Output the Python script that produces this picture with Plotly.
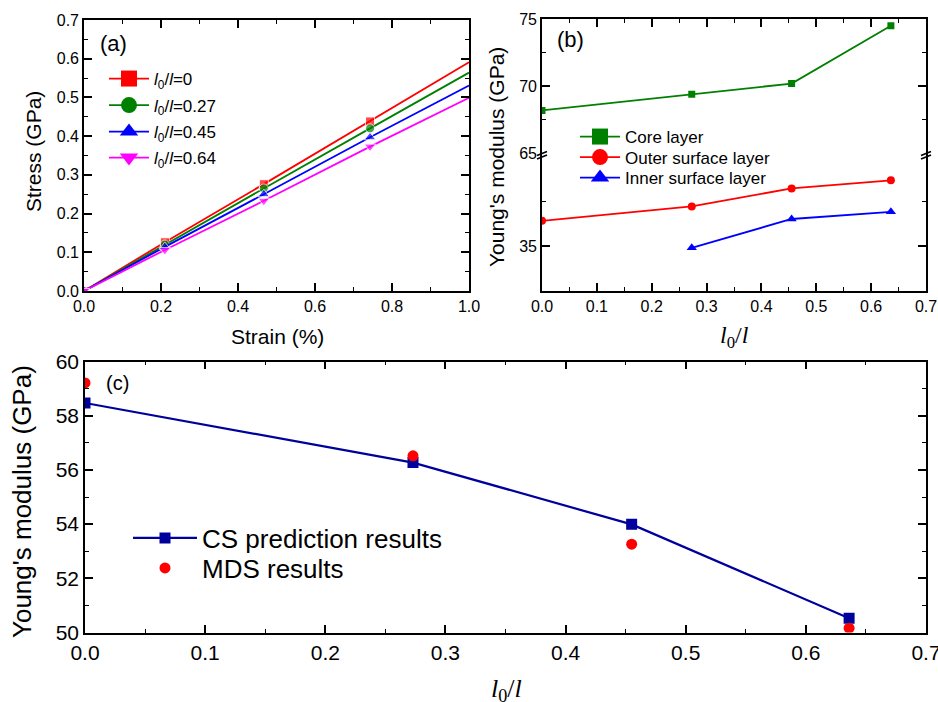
import plotly.graph_objects as go

W, H = 938, 702
SANS = "Arial, 'Liberation Sans', sans-serif"
SERIF = "'Times New Roman', 'Liberation Serif', serif"

# ---- (a) stress-strain curves for four l0/l ratios ----
strain = [0.0, 0.21, 0.467, 0.743, 1.0]
stress_r0 = [0.0, 0.126, 0.276, 0.438, 0.591]
stress_r027 = [0.0, 0.120, 0.265, 0.420, 0.564]
stress_r045 = [0.0, 0.114, 0.250, 0.397, 0.531]
stress_r064 = [0.0, 0.106, 0.233, 0.373, 0.499]
ratio_labels_a = ["0", "0.27", "0.45", "0.64"]

# ---- (b) layer moduli vs l0/l ----
ratio = [0.0, 0.273, 0.455, 0.636]
core_E = [68.2, 69.4, 70.2, 74.5]
outer_E = [36.4, 37.2, 38.2, 38.65]
inner_ratio = [0.273, 0.455, 0.636]
inner_E = [34.9, 36.5, 36.9]

# ---- (c) effective modulus: CS prediction vs MDS ----
cs_E = [58.47, 56.27, 53.99, 50.53]
mds_E = [59.21, 56.52, 53.26, 50.16]


def px(x):
    return x / W


def py(y):
    return 1 - y / H


fig = go.Figure()
legends = {}


def legend_row(key, x, y, size, itemwidth):
    # one legend per row so the row spacing can be set directly
    legends[key] = dict(x=px(x), y=py(y), xanchor="left", yanchor="middle",
                        bgcolor="rgba(0,0,0,0)", borderwidth=0,
                        font=dict(family=SANS, size=size, color="black"),
                        itemwidth=itemwidth, tracegroupgap=0)


# (a) curves; the end point at strain 1.0 carries no marker
colors_a = ["#FF0000", "#008000", "#0000FF", "#FF00FF"]
symbols_a = ["square", "circle", "triangle-up", "triangle-down"]
sizes_a = [9, 9, 10, 10]
rows_a = [79, 105.5, 132, 158]
for i, (ys, c, s, ms, lab) in enumerate(zip([stress_r0, stress_r027, stress_r045, stress_r064],
                                            colors_a, symbols_a, sizes_a, ratio_labels_a)):
    fig.add_trace(go.Scatter(
        x=strain, y=ys, mode="lines+markers", xaxis="x", yaxis="y",
        line=dict(color=c, width=1.8),
        marker=dict(symbol=s, color=c, size=[ms] * (len(strain) - 1) + [0]),
        showlegend=False))
    key = "legend" if i == 0 else f"legend{i + 1}"
    legend_row(key, 104, rows_a[i], 17, 40)
    fig.add_trace(go.Scatter(
        x=[None], y=[None], mode="lines+markers", xaxis="x", yaxis="y",
        line=dict(color=c, width=1.8), marker=dict(symbol=s, color=c, size=16),
        name="<i>l</i><sub>0</sub>/<i>l</i>=" + lab, legend=key))

# (b) core layer on the upper segment, surface layers on the lower one
fig.add_trace(go.Scatter(x=ratio, y=core_E, mode="lines+markers", xaxis="x4", yaxis="y2",
                         line=dict(color="#008000", width=1.8),
                         marker=dict(symbol="square", color="#008000", size=7),
                         showlegend=False))
fig.add_trace(go.Scatter(x=ratio, y=outer_E, mode="lines+markers", xaxis="x2", yaxis="y3",
                         line=dict(color="#FF0000", width=1.8),
                         marker=dict(symbol="circle", color="#FF0000", size=8),
                         showlegend=False))
fig.add_trace(go.Scatter(x=inner_ratio, y=inner_E, mode="lines+markers", xaxis="x2", yaxis="y3",
                         line=dict(color="#0000FF", width=1.8),
                         marker=dict(symbol="triangle-up", color="#0000FF", size=9),
                         showlegend=False))
rows_b = [137, 157.5, 178]
for i, (name, c, s) in enumerate([("Core layer", "#008000", "square"),
                                  ("Outer surface layer", "#FF0000", "circle"),
                                  ("Inner surface layer", "#0000FF", "triangle-up")]):
    key = f"legend{i + 5}"
    legend_row(key, 575, rows_b[i], 17, 40)
    fig.add_trace(go.Scatter(x=[None], y=[None], mode="lines+markers", xaxis="x2", yaxis="y3",
                             line=dict(color=c, width=1.8),
                             marker=dict(symbol=s, color=c, size=16),
                             name=name, legend=key))

# (c)
NAVY = "#00009C"
legend_row("legend8", 128, 538, 26, 64)
legend_row("legend9", 128, 568, 26, 64)
fig.add_trace(go.Scatter(x=ratio, y=cs_E, mode="lines+markers", xaxis="x5", yaxis="y5",
                         line=dict(color=NAVY, width=2.2),
                         marker=dict(symbol="square", color=NAVY, size=11),
                         name="CS prediction results", legend="legend8"))
fig.add_trace(go.Scatter(x=ratio, y=mds_E, mode="markers", xaxis="x5", yaxis="y5",
                         marker=dict(symbol="circle", color="#FF0000", size=11),
                         name="MDS results", legend="legend9"))


def axis(domain, rng, tick_size, dtick=None, minor_dtick=None, fmt=None, mirror="ticks", **kw):
    d = dict(domain=domain, range=rng, showline=True, linecolor="black", linewidth=1.6,
             mirror=mirror, ticks="inside", ticklen=8, tickwidth=1.6, tickcolor="black",
             showgrid=False, zeroline=False, automargin=False, ticklabeloverflow="allow",
             tickfont=dict(family=SANS, size=tick_size, color="black"))
    if dtick is not None:
        d["dtick"] = dtick
        d["tick0"] = rng[0]
    if minor_dtick is not None:
        d["minor"] = dict(ticks="inside", ticklen=4, tickwidth=1.4, tickcolor="black",
                          dtick=minor_dtick, showgrid=False)
    if fmt:
        d["tickformat"] = fmt
    d.update(kw)
    return d


layout = dict(
    width=W, height=H, margin=dict(l=0, r=0, t=0, b=0, autoexpand=False),
    paper_bgcolor="white", plot_bgcolor="white",
    font=dict(family=SANS, color="black"),
    # (a)
    xaxis=axis([px(84), px(469)], [0, 1], 16, 0.2, 0.1, ".1f", anchor="y"),
    yaxis=axis([py(291), py(20)], [0, 0.7], 16, 0.1, 0.05, ".1f", anchor="x"),
    # (b) lower segment
    xaxis2=axis([px(542), px(926)], [0, 0.7], 16, 0.1, 0.05, ".1f", mirror=False,
                anchor="y3"),
    yaxis3=axis([py(291), py(153.5)], [32.5, 40.14], 16, mirror="ticks", anchor="x2",
                tickmode="array", tickvals=[35],
                minor=dict(ticks="inside", ticklen=4, tickwidth=1.4, tickcolor="black",
                           tickmode="array", tickvals=[32.5, 37.5])),
    # (b) upper segment
    xaxis4=axis([px(542), px(926)], [0, 0.7], 16, 0.1, 0.05, mirror=False,
                anchor="y2", side="top", showticklabels=False),
    yaxis2=axis([py(153.5), py(19)], [65, 75], 16, 5, 2.5, mirror="ticks", anchor="x4"),
    # (c)
    xaxis5=axis([px(85), px(926)], [0, 0.7], 21, 0.1, 0.05, ".1f", anchor="y5"),
    yaxis5=axis([py(632.5), py(361.5)], [50, 60], 21, 2, 1, "d", anchor="x5"),
)
layout.update(legends)
fig.update_layout(**layout)

ann = []


def text(x, y, s, size, angle=0, family=SANS):
    ann.append(dict(x=px(x), y=py(y), xref="paper", yref="paper", text=s, showarrow=False,
                    textangle=angle, xanchor="center", yanchor="middle",
                    font=dict(family=family, size=size, color="black")))


l0l = "<i>l</i><sub>0</sub>/<i>l</i>"
text(277, 336, "Strain (%)", 21)
text(34, 152, "Stress (GPa)", 21, -90)
text(113, 44, "(a)", 22)
text(496, 157, "Young's modulus (GPa)", 21, -90)
text(570, 40, "(b)", 22)
text(734, 337, l0l, 24, family=SERIF)
text(22, 502, "Young's modulus (GPa)", 26, -90)
text(117, 383, "(c)", 20)
text(506, 690, l0l, 26, family=SERIF)
fig.update_layout(annotations=ann)

# axis-break marks on the left and right edges of (b)
shapes = []
for xe in (542, 926):
    for dy in (0, 3.5):
        shapes.append(dict(type="line", xref="paper", yref="paper",
                           x0=px(xe - 5), y0=py(155.5 + dy), x1=px(xe + 5), y1=py(151.5 + dy),
                           line=dict(color="black", width=1.6)))
fig.update_layout(shapes=shapes)

fig.write_html("out.html")
